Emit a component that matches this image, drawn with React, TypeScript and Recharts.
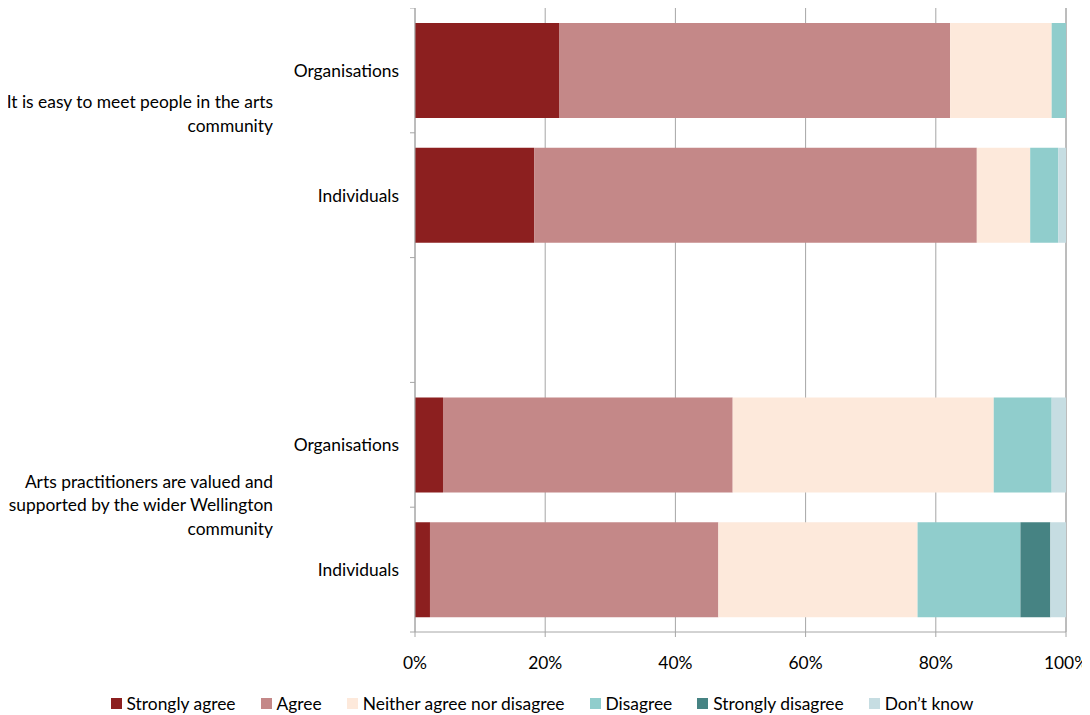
import { Bar, BarChart, CartesianGrid, Legend, XAxis, YAxis } from "recharts"

const rowIds = ["org1", "ind1", "gap", "org2", "ind2"]
const rowLabels = ["Organisations", "Individuals", "", "Organisations", "Individuals"]
const statementLines: Record<string, string[]> = {
  org1: ["It is easy to meet people in the arts", "community"],
  org2: ["Arts practitioners are valued and", "supported by the wider Wellington", "community"],
}

const stronglyAgree = [22.2, 18.3, null, 4.3, 2.3]
const agree = [60.0, 68.0, null, 44.5, 44.3]
const neither = [15.6, 8.2, null, 40.1, 30.6]
const disagree = [2.2, 4.3, null, 8.9, 15.8]
const stronglyDisagree = [0, 0, null, 0, 4.6]
const dontKnow = [0, 1.2, null, 2.2, 2.4]

const xTicks = [0, 20, 40, 60, 80, 100]

const series = [
  { key: "sa", name: "Strongly agree", color: "#8c1f1f", values: stronglyAgree },
  { key: "a", name: "Agree", color: "#c48888", values: agree },
  { key: "n", name: "Neither agree nor disagree", color: "#fde9db", values: neither },
  { key: "d", name: "Disagree", color: "#90cdcc", values: disagree },
  { key: "sd", name: "Strongly disagree", color: "#468383", values: stronglyDisagree },
  { key: "dk", name: "Don\u2019t know", color: "#c6dde2", values: dontKnow },
]

const data = rowIds.map((id, i) => {
  const row: Record<string, string | number | null> = { id }
  series.forEach((s) => {
    row[s.key] = s.values[i]
  })
  return row
})

const FONT = "Lato, 'Liberation Sans', sans-serif"
const FS = 17.4
const CHART_W = 1082
const CHART_H = 705
const Y_AXIS_W = 407
const PLOT_H = 624
const BAND = PLOT_H / rowIds.length
const AXIS_GREY = "#a6a6a6"

// offset of the statement block centre from the organisations row
const statementShift: Record<string, number> = { org1: 43, org2: 60 }

function CategoryTick(props: any) {
  const { x, y, payload, index } = props
  const id = payload.value as string
  const i = rowIds.indexOf(id)
  const lines = statementLines[id]
  const lineH = 23.5
  return (
    <g>
      <line x1={x - 5} x2={x} y1={y - BAND / 2} y2={y - BAND / 2} stroke={AXIS_GREY} />
      {index === rowIds.length - 1 && (
        <line x1={x - 5} x2={x} y1={y + BAND / 2} y2={y + BAND / 2} stroke={AXIS_GREY} />
      )}
      <text x={x - 16} y={y} textAnchor="end" dominantBaseline="central" fontSize={FS} fill="#000" fontFamily={FONT}>
        {rowLabels[i]}
      </text>
      {lines && (
        <text x={x - 142} textAnchor="end" fontSize={FS} fill="#000" fontFamily={FONT}>
          {lines.map((l, k) => (
            <tspan
              key={k}
              x={x - 142}
              y={y + statementShift[id] + (k - (lines.length - 1) / 2) * lineH}
              dominantBaseline="central"
            >
              {l}
            </tspan>
          ))}
        </text>
      )}
    </g>
  )
}

function LegendContent() {
  return (
    <div
      style={{
        display: "flex",
        justifyContent: "center",
        alignItems: "center",
        gap: 25,
        height: 20,
        paddingLeft: 10,
        fontFamily: FONT,
        fontSize: FS,
        color: "#000",
      }}
    >
      {series.map((s) => (
        <div key={s.key} style={{ display: "flex", alignItems: "center" }}>
          <span style={{ width: 11, height: 11, background: s.color, marginRight: 5, display: "inline-block" }} />
          <span>{s.name}</span>
        </div>
      ))}
    </div>
  )
}

export default function App() {
  return (
    <div style={{ width: CHART_W, height: CHART_H }}>
      <style>{"svg.recharts-surface { overflow: visible; }"}</style>
      <BarChart
        width={CHART_W}
        height={CHART_H}
        data={data}
        layout="vertical"
        margin={{ top: 0, right: 24, left: 0, bottom: 0 }}
        barCategoryGap="12%"
      >
        <CartesianGrid horizontal={false} stroke={AXIS_GREY} />
        <XAxis
          type="number"
          domain={[0, 100]}
          ticks={xTicks}
          tickFormatter={(v) => `${v}%`}
          stroke={AXIS_GREY}
          tickSize={5}
          tickMargin={20}
          height={61}
          tick={{ fill: "#000", fontSize: FS, fontFamily: FONT }}
        />
        <YAxis
          type="category"
          dataKey="id"
          width={Y_AXIS_W}
          stroke={AXIS_GREY}
          tickLine={false}
          tickSize={0}
          tickMargin={0}
          interval={0}
          tick={<CategoryTick />}
        />
        <Legend verticalAlign="bottom" content={<LegendContent />} />
        {series.map((s) => (
          <Bar
            key={s.key}
            dataKey={s.key}
            name={s.name}
            stackId="all"
            fill={s.color}
            isAnimationActive={false}
          />
        ))}
      </BarChart>
    </div>
  )
}
